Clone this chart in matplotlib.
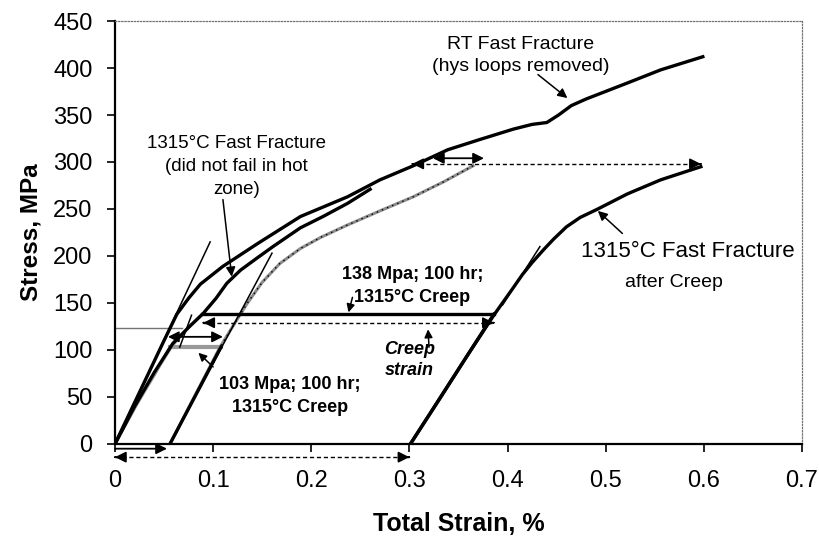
import matplotlib
matplotlib.use('Agg')
import matplotlib.pyplot as plt

plt.rcParams['font.family'] = ['Liberation Sans', 'DejaVu Sans']

# ---------------- data (strain %, stress MPa) ----------------
# RT fast fracture (hys loops removed)
rt_strain = [0, 0.025, 0.05, 0.063, 0.075, 0.087, 0.110, 0.145, 0.189, 0.237, 0.270,
             0.304, 0.339, 0.372, 0.406, 0.425, 0.440, 0.452, 0.465, 0.480, 0.522, 0.556, 0.599]
rt_stress = [0, 55, 110, 138, 155, 170, 189, 213, 242, 263, 281,
             296, 313, 324, 335, 340, 342, 350, 360, 367, 384, 398, 412]

# 1315C fast fracture (did not fail in hot zone)
ff_strain = [0, 0.02, 0.04, 0.059, 0.075, 0.090, 0.103, 0.114, 0.128, 0.145, 0.161,
             0.189, 0.212, 0.237, 0.260]
ff_stress = [0, 40, 76, 107, 124, 139, 155, 171, 185, 198, 210, 230, 242, 256, 271]

# 103 MPa; 100 hr creep specimen
c103_load_strain = [0, 0.02, 0.04, 0.056]
c103_load_stress = [0, 38, 73, 103]
c103_creep_strain = [0.056, 0.108]
c103_creep_stress = [103, 103]
c103_unload_strain = [0.108, 0.056]
c103_unload_stress = [103, 0]
c103_reload_strain = [0.056, 0.107, 0.120, 0.135, 0.150, 0.168, 0.189, 0.210, 0.237,
                      0.270, 0.304, 0.335, 0.365]
c103_reload_stress = [0, 103, 125, 150, 172, 192, 208, 220, 233, 248, 263, 279, 296]

# 138 MPa; 100 hr creep specimen
c138_load_strain = [0, 0.03, 0.058, 0.075, 0.089]
c138_load_stress = [0, 57, 104, 124, 138]
c138_creep_strain = [0.089, 0.386]
c138_creep_stress = [138, 138]
c138_unload_strain = [0.386, 0.301]
c138_unload_stress = [138, 0]

# 1315C fast fracture after creep
ac_strain = [0.301, 0.329, 0.359, 0.386, 0.405, 0.415, 0.425, 0.437, 0.447, 0.460,
             0.474, 0.492, 0.522, 0.556, 0.597]
ac_stress = [0, 45, 94, 137, 165, 180, 193, 207, 218, 231, 241, 250, 266, 281, 295]

# thin modulus (tangent) lines
tan_rt_x, tan_rt_y = [0, 0.097], [0, 215]
tan_c103_x, tan_c103_y = [0.056, 0.160], [0, 203]
tan_c138_x, tan_c138_y = [0.066, 0.078], [103, 137]
tan_ac_x, tan_ac_y = [0.395, 0.433], [148, 210]

# reference line
ref_x, ref_y = [0, 0.068], [123, 123]

x_ticks = [0, 0.1, 0.2, 0.3, 0.4, 0.5, 0.6, 0.7]
x_ticklabels = ['0', '0.1', '0.2', '0.3', '0.4', '0.5', '0.6', '0.7']
y_ticks = [0, 50, 100, 150, 200, 250, 300, 350, 400, 450]

# ---------------- figure ----------------
fig = plt.figure(figsize=(8.2, 5.4), dpi=100)
ax = fig.add_axes([0.1402, 0.1778, 0.8378, 0.7833])
ax.set_xlim(0, 0.7)
ax.set_ylim(0, 450)

GRY = '0.6'
TH = 2.4

# gray loading curves
ax.plot(c103_load_strain, c103_load_stress, color=GRY, lw=2.0, zorder=2)
ax.plot(c138_load_strain, c138_load_stress, color=GRY, lw=2.0, zorder=2)
ax.plot(c103_creep_strain, c103_creep_stress, color=GRY, lw=3.0, zorder=2)
ax.plot(c103_reload_strain, c103_reload_stress, color='0.55', lw=2.2, zorder=2)
ax.plot(c103_reload_strain, c103_reload_stress, color='k', lw=1.0, ls=(0, (1, 3)), zorder=2)
ax.plot(ref_x, ref_y, color='0.45', lw=1.0, zorder=2, clip_on=False)

# black curves
ax.plot(rt_strain, rt_stress, color='k', lw=TH, zorder=3)
ax.plot(ff_strain, ff_stress, color='k', lw=TH, zorder=3)
ax.plot(c103_unload_strain, c103_unload_stress, color='k', lw=TH, zorder=3)
ax.plot(c138_creep_strain, c138_creep_stress, color='k', lw=TH, zorder=3)
ax.plot(c138_unload_strain, c138_unload_stress, color='k', lw=TH, zorder=3)
ax.plot(ac_strain, ac_stress, color='k', lw=TH, zorder=3)

for tx, ty in [(tan_rt_x, tan_rt_y), (tan_c103_x, tan_c103_y),
               (tan_c138_x, tan_c138_y), (tan_ac_x, tan_ac_y)]:
    ax.plot(tx, ty, color='k', lw=1.1, zorder=3)


def arrow(x0, y0, x1, y1, style='-|>', lw=1.3, ms=16):
    ax.annotate('', xy=(x1, y1), xytext=(x0, y0), annotation_clip=False,
                arrowprops=dict(arrowstyle=style, color='k', lw=lw,
                                shrinkA=0, shrinkB=0, mutation_scale=ms), zorder=4)


def dashed_arrow(x0, y0, x1, y1, both=True):
    ax.plot([x0, x1], [y0, y1], color='k', lw=1.0, ls=(0, (3, 2)), clip_on=False, zorder=4)
    dx = (x1 - x0) * 0.001
    arrow(x1 - dx, y1, x1, y1)
    if both:
        arrow(x0 + dx, y0, x0, y0)


# horizontal strain arrows
dashed_arrow(0.303, 298, 0.597, 298)
arrow(0.324, 304, 0.376, 304, style='<|-|>')
dashed_arrow(0.090, 129, 0.386, 129)
arrow(0.054, 114, 0.110, 114, style='<|-|>')
arrow(0.0, -5, 0.053, -5, style='-|>')
dashed_arrow(0.0, -14, 0.300, -14)

# ---------------- annotations ----------------
FS = 13.5
ax.text(0.413, 413, 'RT Fast Fracture\n(hys loops removed)', ha='center', va='center',
        fontsize=14, linespacing=1.4)
arrow(0.431, 393, 0.461, 368, lw=1.1, ms=14)

ax.text(0.124, 295, '1315°C Fast Fracture\n(did not fail in hot\nzone)', ha='center',
        va='center', fontsize=FS, linespacing=1.45)
arrow(0.110, 260, 0.119, 178, lw=1.1, ms=14)

ax.text(0.584, 205, '1315°C Fast Fracture', ha='center', va='center', fontsize=16)
ax.text(0.570, 172, 'after Creep', ha='center', va='center', fontsize=14)
arrow(0.517, 224, 0.492, 248, lw=1.1, ms=14)

ax.text(0.303, 168, '138 Mpa; 100 hr;\n1315°C Creep', ha='center', va='center',
        fontsize=FS - 0.5, fontweight='bold', linespacing=1.45)
arrow(0.242, 156, 0.238, 140, lw=1.1, ms=12)

ax.text(0.178, 51, '103 Mpa; 100 hr;\n1315°C Creep', ha='center', va='center',
        fontsize=FS - 0.5, fontweight='bold', linespacing=1.45)
arrow(0.100, 82, 0.085, 97, lw=1.1, ms=12)

ax.text(0.300, 89, 'Creep\nstrain', ha='center', va='center', fontsize=FS - 0.5,
        fontweight='bold', fontstyle='italic', linespacing=1.3)
arrow(0.320, 103, 0.319, 122, lw=1.1, ms=12)

# ---------------- axes styling ----------------
ax.set_xticks(x_ticks)
ax.set_xticklabels(x_ticklabels)
ax.set_yticks(y_ticks)
ax.tick_params(axis='both', direction='out', length=6, width=1.2, labelsize=17)
ax.tick_params(axis='x', pad=13)
ax.tick_params(axis='y', pad=10)
for s in ['left', 'bottom']:
    ax.spines[s].set_linewidth(1.6)
    ax.spines[s].set_color('k')
for s in ['top', 'right']:
    ax.spines[s].set_linewidth(0.9)
    ax.spines[s].set_color('0.45')
    ax.spines[s].set_linestyle((0, (1, 1.5)))

ax.set_xlabel('Total Strain, %', fontsize=18, fontweight='bold', labelpad=14)
ax.set_ylabel('Stress, MPa', fontsize=17.5, fontweight='bold', labelpad=8)

fig.savefig('out.png', dpi=100)
